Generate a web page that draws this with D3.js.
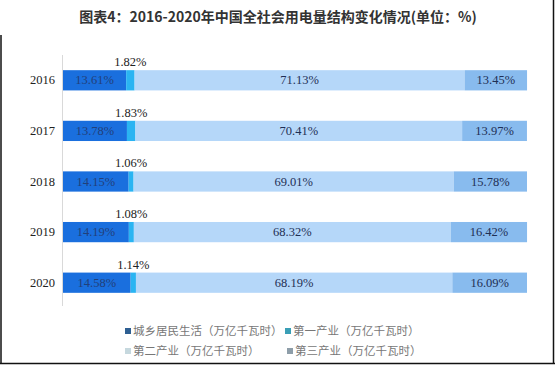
<!DOCTYPE html>
<html>
<head>
<meta charset="utf-8">
<script src="https://cdn.jsdelivr.net/npm/d3@7"></script>
<style>
  html, body { margin: 0; padding: 0; background: #fff; }
  svg { display: block; }
</style>
</head>
<body>
<svg id="chart" width="556" height="366"></svg>
<script>
// data
const years = ['2016', '2017', '2018', '2019', '2020'];
const seriesNames = ['城乡居民生活（万亿千瓦时）', '第一产业（万亿千瓦时）', '第二产业（万亿千瓦时）', '第三产业（万亿千瓦时）'];
const residential = [13.61, 13.78, 14.15, 14.19, 14.58];
const primary = [1.82, 1.83, 1.06, 1.08, 1.14];
const secondary = [71.13, 70.41, 69.01, 68.32, 68.19];
const tertiary = [13.45, 13.97, 15.78, 16.42, 16.09];

const W = 556, H = 366;
const barColors = ['#1a6fde', '#2ab4f2', '#b5d7f9', '#88bbee'];
const legendColors = ['#2e5f92', '#3a9fb6', '#c6d8de', '#8e9ea9'];
const serif = '"Liberation Serif", "Times New Roman", serif';
const cjk = '"Noto Sans CJK SC", "Noto Sans", sans-serif';

const svg = d3.select('#chart');

// frame lines
svg.append('line').attr('x1', 1).attr('x2', 1).attr('y1', 35).attr('y2', 364)
  .attr('stroke', '#111').attr('stroke-width', 1.5);
svg.append('line').attr('x1', 553.5).attr('x2', 553.5).attr('y1', 0).attr('y2', 364)
  .attr('stroke', '#111').attr('stroke-width', 1.5);
svg.append('line').attr('x1', 0).attr('x2', 555).attr('y1', 363.5).attr('y2', 363.5)
  .attr('stroke', '#111').attr('stroke-width', 1.5);

// title
svg.append('text')
  .attr('x', 278).attr('y', 22)
  .attr('text-anchor', 'middle')
  .attr('font-family', cjk).attr('font-weight', 'bold').attr('font-size', 14)
  .attr('fill', '#333')
  .text('图表4：2016-2020年中国全社会用电量结构变化情况(单位：%)');

const x = d3.scaleLinear().domain([0, 100]).range([63, 527]);
const y = d3.scaleBand().domain(years).range([55, 308]).paddingInner(0.6).paddingOuter(0.3);

// stacked layout
const rows = years.map((yr, i) => ({
  year: yr, s0: residential[i], s1: primary[i], s2: secondary[i], s3: tertiary[i]
}));
const stack = d3.stack().keys(['s0', 's1', 's2', 's3']);
const layers = stack(rows);

// vertical axis line
svg.append('line')
  .attr('x1', x(0) - 0.5).attr('x2', x(0) - 0.5)
  .attr('y1', 55).attr('y2', 306)
  .attr('stroke', '#d9d9d9').attr('stroke-width', 1);

const g = svg.append('g').attr('id', 'bars');
layers.forEach((layer, k) => {
  g.append('g')
    .selectAll('rect')
    .data(layer)
    .join('rect')
      .attr('x', d => x(d[0]))
      .attr('width', d => x(d[1]) - x(d[0]))
      .attr('y', d => y(d.data.year))
      .attr('height', y.bandwidth())
      .attr('fill', barColors[k]);
});

// labels inside segments (0, 2, 3) and above for segment 1
layers.forEach((layer, k) => {
  g.append('g')
    .selectAll('text')
    .data(layer)
    .join('text')
      .attr('x', d => (x(d[0]) + x(d[1])) / 2)
      .attr('y', d => k === 1 ? y(d.data.year) - 4 : y(d.data.year) + y.bandwidth() / 2 + 4)
      .attr('text-anchor', 'middle')
      .attr('font-family', serif).attr('font-size', 12.5)
      .attr('fill', k === 0 ? '#22407a' : (k === 1 ? '#222' : '#1f2f55'))
      .text(d => (d[1] - d[0]).toFixed(2) + '%');
});

// year labels
svg.append('g')
  .selectAll('text')
  .data(years)
  .join('text')
    .attr('x', 55)
    .attr('y', d => y(d) + y.bandwidth() / 2 + 4)
    .attr('text-anchor', 'end')
    .attr('font-family', serif).attr('font-size', 12.5)
    .attr('fill', '#222')
    .text(d => d);

// legend
const legendPos = [[125, 331], [285, 331], [125, 351], [287, 351]];
const lg = svg.append('g').attr('id', 'legend');
seriesNames.forEach((name, i) => {
  const [lx, ly] = legendPos[i];
  lg.append('rect').attr('x', lx).attr('y', ly - 3).attr('width', 6).attr('height', 6)
    .attr('fill', legendColors[i]);
  lg.append('text').attr('x', lx + 8).attr('y', ly + 4)
    .attr('font-family', cjk).attr('font-size', 11.5)
    .attr('fill', '#777')
    .text(name);
});
</script>
</body>
</html>
